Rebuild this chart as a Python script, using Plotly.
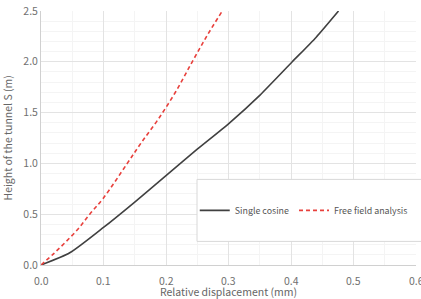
import plotly.graph_objects as go

# Single cosine
sc_x = [0, 0.046, 0.1, 0.15, 0.2, 0.25, 0.3, 0.35, 0.402, 0.44, 0.476]
sc_y = [0, 0.12, 0.37, 0.62, 0.88, 1.14, 1.39, 1.67, 2.0, 2.24, 2.5]
# Free field analysis
ff_x = [0, 0.02, 0.04, 0.06, 0.078, 0.1, 0.138, 0.16, 0.187, 0.215, 0.242, 0.265, 0.29]
ff_y = [0, 0.11, 0.23, 0.36, 0.5, 0.66, 1.0, 1.2, 1.43, 1.7, 2.0, 2.25, 2.5]

x_ticks = [0.0, 0.1, 0.2, 0.3, 0.4, 0.5, 0.6]
x_range = [0, 0.6]
y_range = [0, 2.5]

FONT = "Noto Sans CJK KR"
fig = go.Figure()
fig.add_trace(go.Scatter(x=sc_x, y=sc_y, mode="lines", name="Single cosine",
                         line=dict(color="#404040", width=1.6, shape="spline", smoothing=0.6)))
fig.add_trace(go.Scatter(x=ff_x, y=ff_y, mode="lines", name="Free field analysis",
                         line=dict(color="#e8403c", width=1.6, dash="4px,3px", shape="spline")))

axis_common = dict(showgrid=True, gridcolor="#e3e3e3", gridwidth=1, zeroline=False,
                   ticks="", tickfont=dict(family=FONT, size=10.5, color="#707070"),
                   showline=True, linecolor="#d0d0d0", linewidth=1, ticklabeloverflow="allow",
                   tickformat=".1f", tick0=0, automargin=False)
fig.update_xaxes(range=x_range, dtick=0.1, showticklabels=False,
                 minor=dict(dtick=0.05, showgrid=True, gridcolor="#f4f4f4", gridwidth=1),
                 **axis_common)
fig.update_yaxes(range=y_range, dtick=0.5,
                 minor=dict(dtick=0.1, showgrid=True, gridcolor="#f4f4f4", gridwidth=1),
                 **axis_common)

# x tick labels placed through the x data scale
for v in x_ticks:
    fig.add_annotation(text=f"{v:.1f}", xref="x", yref="paper", x=v, y=0, yanchor="top",
                       yshift=-6, showarrow=False,
                       font=dict(family=FONT, size=10.5, color="#707070"))

fig.add_shape(type="rect", xref="paper", yref="paper", x0=0.416, x1=1.02, y0=0.093, y1=0.337,
              line=dict(color="#d8d8d8", width=1), fillcolor="white", layer="above")
fig.add_annotation(text="Relative displacement (mm)", xref="paper", yref="paper", x=0.5, y=0,
                   yanchor="top", yshift=-17, showarrow=False,
                   font=dict(family=FONT, size=10.5, color="#666"))
fig.add_annotation(text="Height of the tunnel S (m)", xref="paper", yref="paper", x=-0.092, y=0.5,
                   textangle=-90, xanchor="center", showarrow=False,
                   font=dict(family=FONT, size=10.5, color="#666"))

fig.update_layout(width=421, height=299, margin=dict(l=41, r=5, t=11, b=34),
                  plot_bgcolor="white", paper_bgcolor="white",
                  legend=dict(orientation="h", x=0.41, y=0.215, yanchor="middle", xanchor="left",
                              bgcolor="rgba(0,0,0,0)", font=dict(family=FONT, size=8.9, color="#555"),
                              itemwidth=30, tracegroupgap=0),
                  showlegend=True)
fig.write_html("out.html")
